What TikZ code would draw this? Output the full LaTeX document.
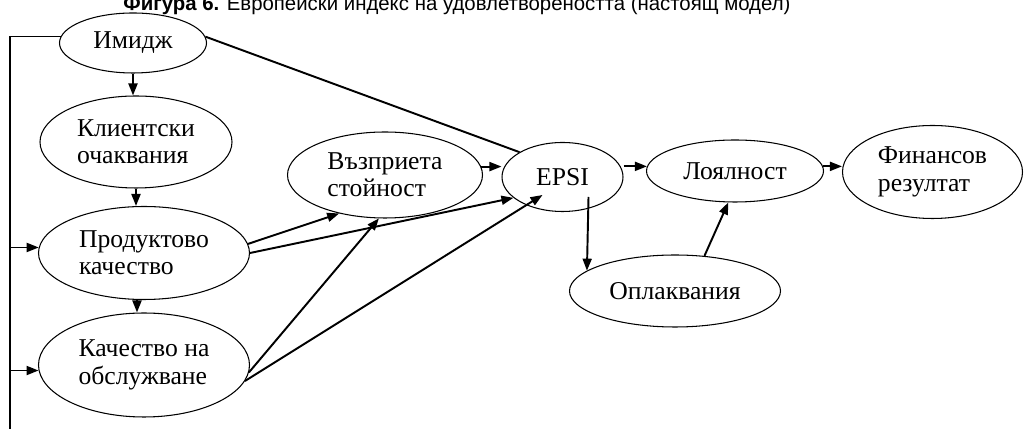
\documentclass[tikz,border=0pt]{standalone}
\usepackage{fontspec}
\setmainfont{Liberation Serif}
\newfontfamily\titlefont{Liberation Sans}
\usetikzlibrary{shapes.geometric,arrows.meta,positioning,calc}

\begin{document}
\begin{tikzpicture}[
        factor/.style={draw, ellipse, line width=0.6pt, inner sep=0pt, align=left,
            font=\fontsize{14.6}{15.6}\selectfont},
        link/.style={line width=1.1pt, -{Triangle[length=0.24cm,width=0.18cm]}},
        plain/.style={line width=0.6pt}]
        \useasboundingbox (0,0) rectangle (20.5,8.58);

        % Title (cut at the top)
        \node[anchor=base west, inner sep=0pt, font=\titlefont\fontsize{11.6}{14}\selectfont] (title) at (2.46,8.36)
            {\textbf{Фигура 6.} Европейски индекс на удовлетвореността (настоящ модел)};

        % Factors
        \node[factor, minimum width=2.94cm, minimum height=1.20cm] (image) at (2.66,7.72) {Имидж};
        \node[factor, minimum width=3.84cm, minimum height=1.84cm] (expect) at (2.72,5.74) {Клиентски\\очаквания};
        \node[factor, minimum width=4.22cm, minimum height=1.86cm] (product) at (2.88,3.52) {Продуктово\\качество};
        \node[factor, minimum width=4.22cm, minimum height=2.08cm] (service) at (2.88,1.28) {Качество на\\обслужване};
        \node[factor, minimum width=3.90cm, minimum height=1.72cm] (value) at (7.70,5.08) {Възприета\\стойност};
        \node[factor, minimum width=2.42cm, minimum height=1.38cm] (epsi) at (11.25,5.04) {EPSI};
        \node[factor, minimum width=3.54cm, minimum height=1.24cm] (loyalty) at (14.70,5.16) {Лоялност};
        \node[factor, minimum width=3.60cm, minimum height=1.86cm] (finance) at (18.65,5.14) {Финансов\\резултат};
        \node[factor, minimum width=4.22cm, minimum height=1.44cm] (complaints) at (13.50,2.76) {Оплаквания};

        % Left rail
        \coordinate (rail) at (0.2,0);
        \draw[plain] (image.175) -| (rail);
        \draw[link] (rail |- product.177) -- (product.177);
        \draw[link] (rail |- service.183) -- (service.183);

        % Column on the left
        \draw[link] (image.south) -- (image.south |- expect.north);
        \draw[link] (expect.south) -- (expect.south |- product.north);
        \draw[link] ([xshift=-0.14cm]product.south) -- ([xshift=-0.14cm]product.south |- service.north);

        % Into value and EPSI
        \draw[line width=1.1pt] (image.5) -- (epsi.150);
        \draw[link] (product.5) -- (value.220);
        \draw[link] (product.east) -- (epsi.203);
        \draw[link] (service.-4) -- (value.262);
        \draw[link] (service.-9) -- ([shift={(-0.4,-0.36)}]epsi.center);
        \draw[link] (value.5) -- (value.5 -| epsi.west);

        % Outcomes
        \draw[link] (epsi.east |- loyalty.177) -- (loyalty.177);
        \draw[link] (loyalty.3) -- (loyalty.3 -| finance.west);
        \draw[link] ([shift={(0.52,-0.4)}]epsi.center) -- (complaints.167);
        \draw[link] (complaints.50) -- (loyalty.258);
    \end{tikzpicture}
\end{document}
